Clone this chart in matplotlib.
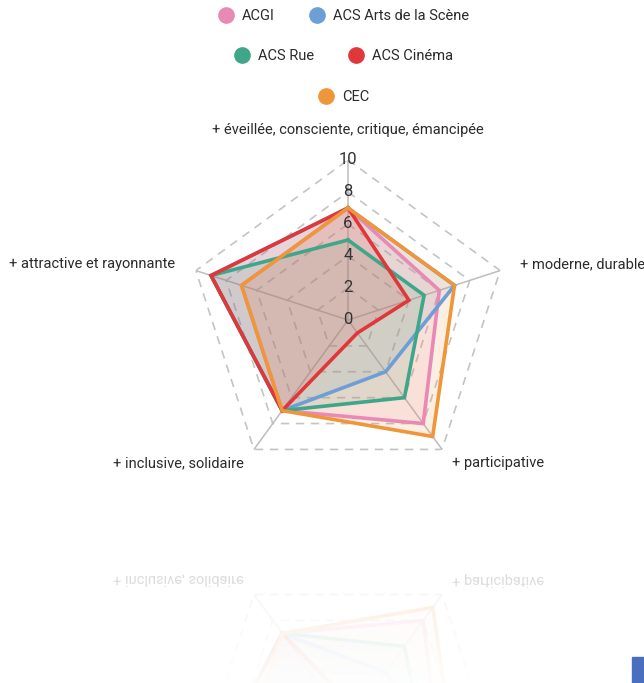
import numpy as np
import matplotlib
matplotlib.use("Agg")
import matplotlib.pyplot as plt
from matplotlib.lines import Line2D

plt.rcParams['font.family'] = ['Roboto', 'DejaVu Sans']

# axes, clockwise from the top
axes_labels = ["+ éveillée, consciente, critique, émancipée",
               "+ moderne, durable",
               "+ participative",
               "+ inclusive, solidaire",
               "+ attractive et rayonnante"]

series_names = ["ACGI", "ACS Arts de la Scène", "ACS Rue", "ACS Cinéma", "CEC"]
acgi = [7, 6, 8, 7, 7]
acs_arts = [7, 7, 4, 7, 9]
acs_rue = [5, 5, 6, 7, 9]
acs_cinema = [7, 4, 1, 7, 9]
cec = [7, 7, 9, 7, 7]
series_values = [acgi, acs_arts, acs_rue, acs_cinema, cec]
colors = ["#e889b6", "#6d9fd6", "#3fa68a", "#e0383a", "#f0963a"]

levels = [0, 2, 4, 6, 8, 10]

W, H = 644, 683
fig = plt.figure(figsize=(W / 100, H / 100), dpi=100)

# radar axes: centre at (348, 320) px, radius 160 px for 10
cx, cy, rr = 348, 320, 160
ax = fig.add_axes([(cx - rr) / W, 1 - (cy + rr) / H, 2 * rr / W, 2 * rr / H],
                  projection='polar')
ax.set_theta_offset(np.pi / 2)
ax.set_theta_direction(-1)
ax.set_ylim(0, 10)
ax.set_xticks([])
ax.set_yticks([])
ax.grid(False)
ax.spines['polar'].set_visible(False)
ax.patch.set_visible(False)

n = len(axes_labels)
theta = np.linspace(0, 2 * np.pi, n, endpoint=False)
theta_c = np.append(theta, theta[0])

# dashed pentagon grid
for lv in levels[1:]:
    ax.plot(theta_c, [lv] * (n + 1), color="#c4c4c4", lw=1.2, ls=(0, (5, 4)), zorder=1)
# spokes
for t in theta:
    ax.plot([t, t], [0, 10], color="#bdbdbd", lw=1.1, zorder=1)

# series
for vals, col in zip(series_values, colors):
    v = list(vals) + [vals[0]]
    ax.fill(theta_c, v, color=col, alpha=0.15, zorder=2, lw=0)
for vals, col in zip(series_values, colors):
    v = list(vals) + [vals[0]]
    ax.plot(theta_c, v, color=col, lw=2.6, zorder=3, solid_joinstyle='miter')

# tick labels on the top axis
for lv in levels:
    ax.text(0, lv, str(lv), ha='center', va='center', fontsize=12,
            color="#333333", zorder=5)

# axis labels
lab_pos = [(0, 11.85, 'center', 'center'),
           (theta[1], 11.3, 'left', 'center'),
           (theta[2], 11.05, 'left', 'center'),
           (theta[3], 11.05, 'right', 'center'),
           (theta[4], 11.35, 'right', 'center')]
for lab, (t, r, ha, va) in zip(axes_labels, lab_pos):
    ax.text(t, r, lab, ha=ha, va=va, fontsize=10.5, color="#2b2b2b")

# legend in three centred rows
rows = [[0, 1], [2, 3], [4]]
row_y = [1 - 16 / H, 1 - 56 / H, 1 - 97 / H]
for idx, y in zip(rows, row_y):
    handles = [Line2D([], [], ls='none', marker='o', markersize=11,
                      markerfacecolor=colors[i], markeredgecolor=colors[i])
               for i in idx]
    fig.legend(handles, [series_names[i] for i in idx], loc='center',
               bbox_to_anchor=(343 / W, y), ncol=len(idx), frameon=False,
               fontsize=10.5, handletextpad=0.5, columnspacing=2.3,
               handlelength=1.2, labelcolor="#2b2b2b")

# small blue square bottom right
fig.patches.append(plt.Rectangle((632 / W, 0), 12 / W, 26 / H,
                                 transform=fig.transFigure, color="#4a6fbf"))

# faded mirror reflection of the lower part of the chart
fig.canvas.draw()
buf = np.asarray(fig.canvas.buffer_rgba())[:, :, :3].astype(float) / 255.0
mirror = 522
h = H - mirror
part = buf[mirror - h:mirror][::-1]
alpha = np.linspace(0.24, 0.03, h)[:, None, None]
refl = 1.0 - alpha * (1.0 - part)
refl[:, 630:] = 1.0
fig.figimage(refl, xo=0, yo=0, origin='upper', zorder=0)

fig.savefig("out.png", dpi=100)
